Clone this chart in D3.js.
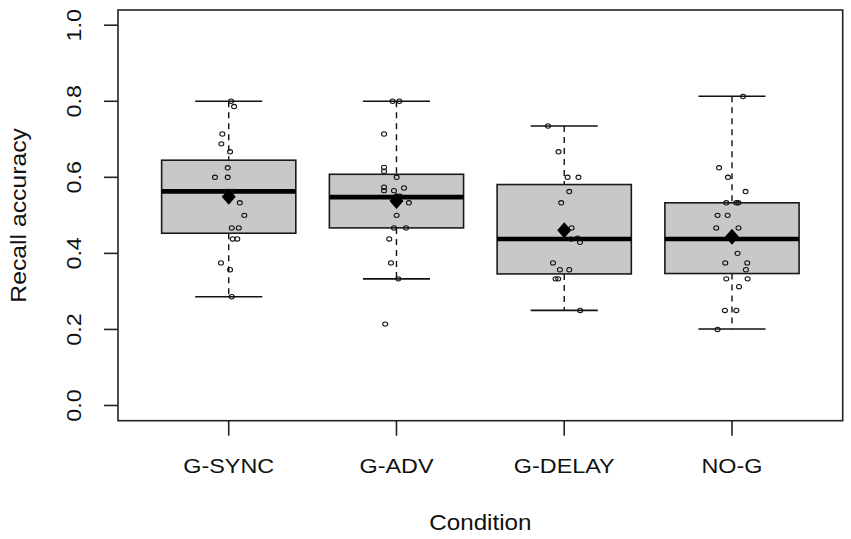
<!DOCTYPE html>
<html><head><meta charset="utf-8">
<script src="https://cdn.jsdelivr.net/npm/d3@7"></script>
<style>
body{margin:0;background:#fff}
text{font-family:Arial,"Liberation Sans",Helvetica,sans-serif;fill:#111}
</style>
</head><body><svg id="c" width="851" height="539"></svg>
<script>
// ---- data ----
const categories = ["G-SYNC","G-ADV","G-DELAY","NO-G"];
const whiskerLow  = [0.286,0.333,0.250,0.201];
const q1          = [0.453,0.467,0.346,0.347];
const median      = [0.563,0.548,0.438,0.438];
const q3          = [0.645,0.608,0.581,0.533];
const whiskerHigh = [0.800,0.800,0.735,0.813];
const means       = [0.549,0.538,0.461,0.444];
const yTicks = [0.0,0.2,0.4,0.6,0.8,1.0];
// individual scores: [value, horizontal jitter in category units]
const pointsSYNC = [[0.800,0.014],[0.786,0.032],[0.714,-0.038],[0.688,-0.044],[0.667,0.008],[0.625,-0.006],[0.600,-0.082],[0.600,-0.006],[0.5625,-0.01],[0.5625,0.02],[0.533,0.066],[0.500,0.093],[0.467,0.018],[0.467,0.060],[0.438,0.024],[0.438,0.051],[0.375,-0.046],[0.357,0.008],[0.286,0.018]];
const pointsADV = [[0.800,-0.023],[0.800,0.017],[0.714,-0.074],[0.626,-0.074],[0.616,-0.074],[0.600,0.001],[0.574,-0.074],[0.565,-0.074],[0.565,-0.015],[0.572,0.045],[0.550,0.0],[0.550,0.02],[0.533,0.074],[0.500,0.001],[0.467,-0.015],[0.467,0.057],[0.438,-0.043],[0.375,-0.033],[0.333,0.011],[0.214,-0.067]];
const pointsDELAY = [[0.735,-0.097],[0.667,-0.034],[0.600,0.020],[0.600,0.085],[0.5625,0.030],[0.533,-0.018],[0.467,0.044],[0.4375,0.040],[0.440,0.079],[0.429,0.094],[0.375,-0.067],[0.357,-0.026],[0.357,0.030],[0.333,-0.052],[0.333,-0.036],[0.250,0.095]];
const pointsNOG = [[0.8125,0.066],[0.625,-0.077],[0.600,-0.024],[0.5625,0.081],[0.533,-0.034],[0.533,0.026],[0.533,0.038],[0.500,-0.086],[0.500,-0.026],[0.467,-0.094],[0.467,0.039],[0.4375,0.0],[0.400,0.033],[0.375,-0.040],[0.375,0.091],[0.357,0.083],[0.333,-0.034],[0.333,0.093],[0.3125,0.042],[0.250,-0.042],[0.250,0.026],[0.200,-0.086]];
const points = [pointsSYNC, pointsADV, pointsDELAY, pointsNOG];

// ---- layout ----
const L = 118, R = 842.7, T = 10, B = 420.7;
const ST = 1.14; // text stretch along its writing direction (wide glyphs in reference)
const svg = d3.select("#c");

const x = d3.scaleBand().domain(categories).range([L, R]).paddingInner(0).paddingOuter(0.16);
const y = d3.scaleLinear().domain([-0.04, 1.04]).range([B, T]);
const step = x.step();
const cx = c => x(c) + x.bandwidth() / 2;
const boxW = 0.8 * step, capW = 0.4 * step;

const data = categories.map((c, i) => ({c, lo: whiskerLow[i], q1: q1[i], med: median[i], q3: q3[i], hi: whiskerHigh[i], mean: means[i], pts: points[i]}));

const g = svg.append("g");
// whiskers (dashed)
g.selectAll(".wl").data(data).join("line")
  .attr("x1", d => cx(d.c)).attr("x2", d => cx(d.c))
  .attr("y1", d => y(d.hi)).attr("y2", d => y(d.q3))
  .attr("stroke", "#111").attr("stroke-width", 1.4).attr("stroke-dasharray", "6,5");
g.selectAll(".wl2").data(data).join("line")
  .attr("x1", d => cx(d.c)).attr("x2", d => cx(d.c))
  .attr("y1", d => y(d.q1)).attr("y2", d => y(d.lo))
  .attr("stroke", "#111").attr("stroke-width", 1.4).attr("stroke-dasharray", "6,5");
// caps
["hi","lo"].forEach(k => {
  g.selectAll(".cap" + k).data(data).join("line")
    .attr("x1", d => cx(d.c) - capW / 2).attr("x2", d => cx(d.c) + capW / 2)
    .attr("y1", d => y(d[k])).attr("y2", d => y(d[k]))
    .attr("stroke", "#111").attr("stroke-width", 1.6);
});
// boxes
g.selectAll(".box").data(data).join("rect")
  .attr("x", d => cx(d.c) - boxW / 2).attr("width", boxW)
  .attr("y", d => y(d.q3)).attr("height", d => y(d.q1) - y(d.q3))
  .attr("fill", "#c8c8c8").attr("stroke", "#1a1a1a").attr("stroke-width", 1.6);
// medians
g.selectAll(".med").data(data).join("line")
  .attr("x1", d => cx(d.c) - boxW / 2).attr("x2", d => cx(d.c) + boxW / 2)
  .attr("y1", d => y(d.med)).attr("y2", d => y(d.med))
  .attr("stroke", "#000").attr("stroke-width", 4.6);
// points
data.forEach(d => {
  g.selectAll(null).data(d.pts).join("ellipse")
    .attr("cx", p => cx(d.c) + p[1] * step).attr("cy", p => y(p[0]))
    .attr("rx", 2.5).attr("ry", 2.2)
    .attr("fill", "none").attr("stroke", "#111").attr("stroke-width", 1.05);
});
// mean diamonds
g.selectAll(".mean").data(data).join("path")
  .attr("d", d => { const X = cx(d.c), Y = y(d.mean); return `M${X},${Y-8}L${X+7},${Y}L${X},${Y+8}L${X-7},${Y}Z`; })
  .attr("fill", "#000");

// frame
svg.append("rect").attr("x", L).attr("y", T).attr("width", R - L).attr("height", B - T)
  .attr("fill", "none").attr("stroke", "#222").attr("stroke-width", 1.6);

// y axis ticks
svg.append("g").selectAll("line").data(yTicks).join("line")
  .attr("x1", L - 14).attr("x2", L).attr("y1", d => y(d)).attr("y2", d => y(d))
  .attr("stroke", "#222").attr("stroke-width", 1.6);
svg.append("g").selectAll("text").data(yTicks).join("text")
  .attr("transform", d => `translate(80.5,${y(d)}) rotate(-90) scale(${ST},1)`)
  .attr("text-anchor", "middle").attr("font-size", 20.5)
  .text(d => d3.format(".1f")(d));

// x axis ticks
svg.append("g").selectAll("line").data(categories).join("line")
  .attr("x1", d => cx(d)).attr("x2", d => cx(d)).attr("y1", B).attr("y2", B + 15)
  .attr("stroke", "#222").attr("stroke-width", 1.6);
svg.append("g").selectAll("text").data(categories).join("text")
  .attr("transform", d => `translate(${cx(d)},472.7) scale(${ST},1)`)
  .attr("text-anchor", "middle").attr("font-size", 20.5)
  .text(d => d);

// axis titles
svg.append("text").attr("transform", `translate(${(L + R) / 2},530) scale(1.1,1)`)
  .attr("text-anchor", "middle").attr("font-size", 22).text("Condition");
svg.append("text").attr("transform", `translate(25.5,${(T + B) / 2}) rotate(-90) scale(1.1,1)`)
  .attr("text-anchor", "middle").attr("font-size", 22.5).text("Recall accuracy");
</script>
</body></html>
